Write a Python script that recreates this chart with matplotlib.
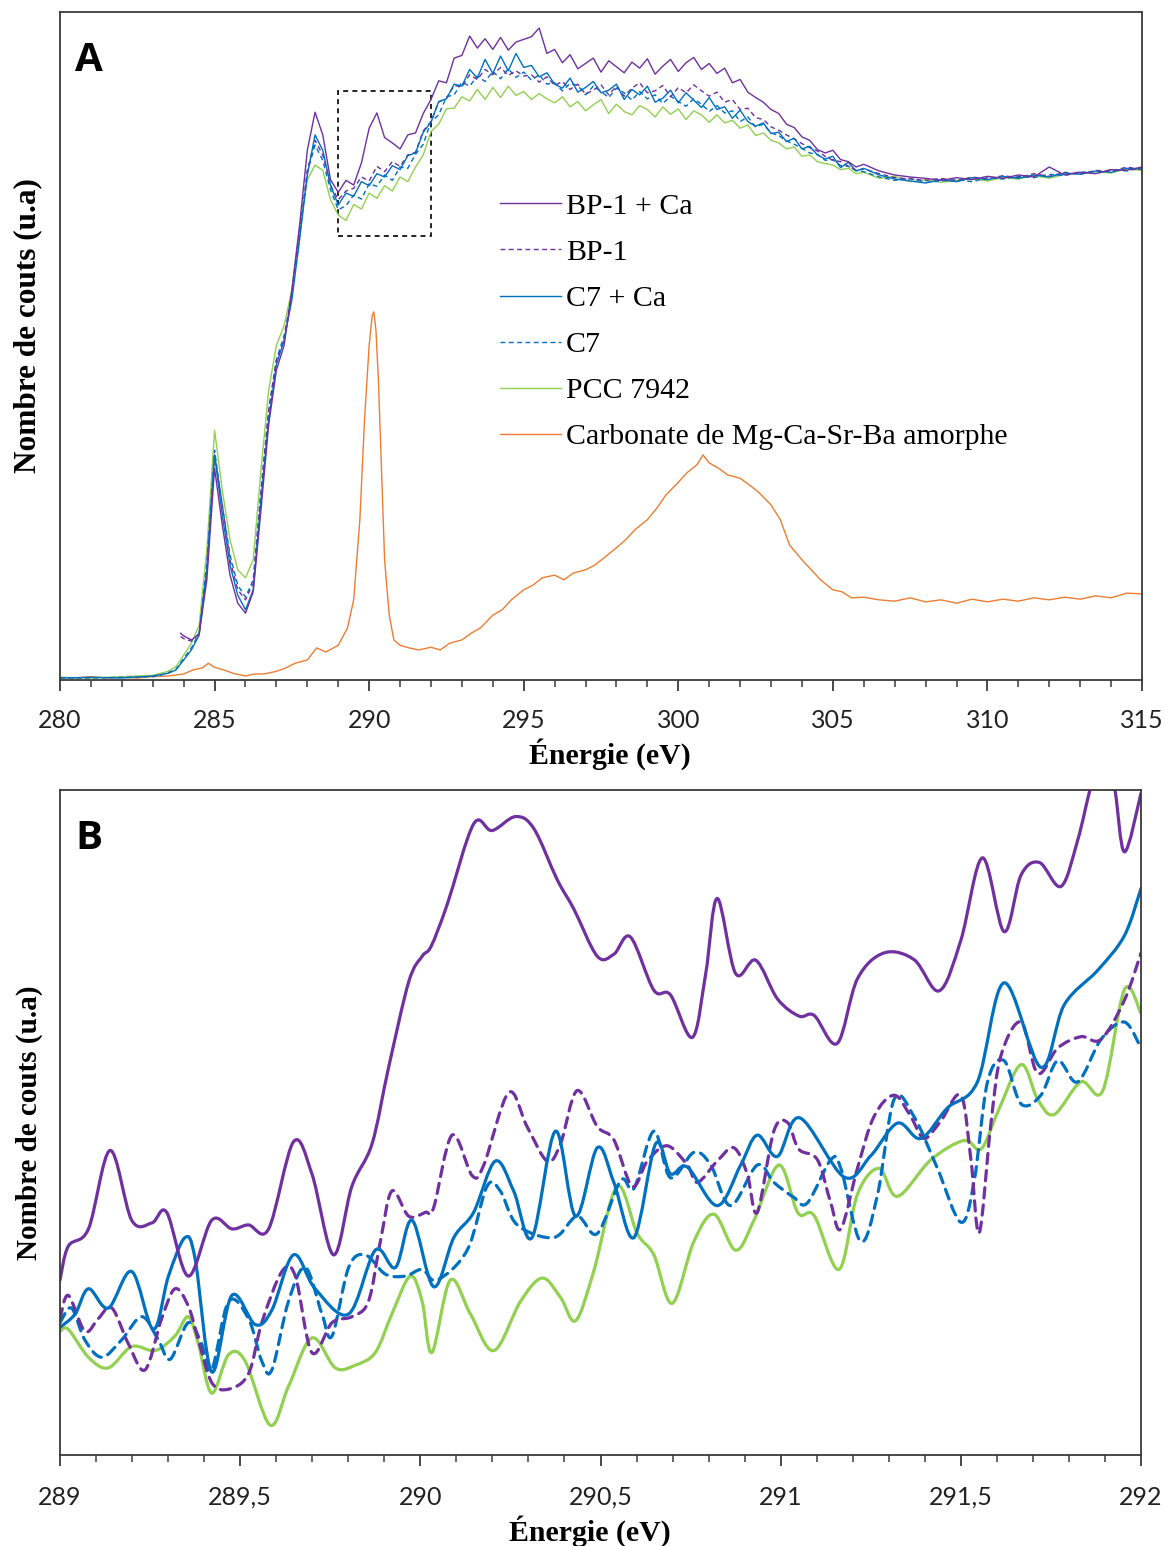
import numpy as np
import matplotlib
matplotlib.use("Agg")
import matplotlib.pyplot as plt
from matplotlib.path import Path
from matplotlib.patches import PathPatch, Rectangle
from matplotlib.lines import Line2D
from matplotlib.ticker import MultipleLocator, FuncFormatter

# ---------------- Panel A data (arbitrary units) ----------------
grid_head = [280, 281, 282, 283]
grid_fine = [283.25 + 0.25 * i for i in range(92)]          # 283.25 .. 306
grid_tail = [306.5 + 0.5 * i for i in range(18)]            # 306.5 .. 315
energy_A = grid_head + grid_fine + grid_tail
energy_A_bp1 = [283.9] + [e for e in energy_A if e >= 284.0]

c7_ca_A = ([0.3, 0.4, 0.3, 0.6,
            0.8, 1.0, 1.5, 3.0, 4.5, 6.7, 16.5, 33.7, 24.7, 17.2, 12.7, 10.5, 13.5, 26.9, 38.9, 47.2,
            50.9, 56.9, 65.9, 75.6, 81.6, 79.3, 74.1]
           + [71.1, 72.9, 72.4, 74.6, 74.0, 75.8, 75.3, 77.0, 76.4, 78.5, 78.9, 82.0, 83.5, 86.6, 87.0,
              89.2, 88.9, 91.4, 90.1, 92.9, 90.8, 93.4, 91.2, 93.8, 91.7, 92.0, 90.3, 90.9, 89.2]
           + [88.6, 90.1, 88.0, 88.7, 89.6, 87.9, 88.3, 89.2, 86.9, 88.4, 87.6, 88.9, 86.5, 87.1, 88.3,
              86.4, 87.9, 86.8, 85.7, 87.2, 85.4, 85.8, 84.1, 85.3, 83.6, 82.9, 83.4, 81.8, 82.0, 80.6,
              81.1, 79.5, 79.9, 78.6, 78.0, 78.4, 76.7, 77.5, 76.2, 76.6]
           + [75.6, 75.0, 74.7, 74.4, 74.9, 74.6, 75.2, 74.9, 75.4, 75.1, 75.6, 75.3, 75.9, 75.7, 76.2,
              76.0, 76.6, 76.5])

c7_A = ([0.3, 0.3, 0.4, 0.5,
         0.7, 1.1, 1.6, 3.2, 4.8, 7.0, 17.5, 34.4, 26.2, 18.7, 14.2, 12.4, 15.0, 28.4, 40.4, 47.9,
         51.6, 57.6, 66.6, 76.0, 80.1, 77.8, 73.4]
        + [70.4, 71.0, 72.6, 72.0, 74.3, 73.9, 75.6, 74.8, 76.8, 76.6, 78.7, 80.2, 83.6, 84.6, 87.3,
           87.6, 89.5, 88.9, 90.4, 89.6, 91.1, 90.0, 91.5, 90.2, 91.0, 89.8, 90.6, 89.2, 89.4]
        + [88.2, 89.3, 89.0, 87.6, 88.9, 88.1, 87.2, 88.6, 87.9, 86.8, 88.1, 87.0, 87.6, 86.3, 87.4,
           86.6, 85.9, 87.0, 86.2, 85.1, 86.0, 84.9, 85.2, 83.6, 84.3, 82.8, 83.2, 81.9, 81.5, 80.7,
           80.2, 79.6, 78.9, 78.7, 77.8, 77.9, 77.0, 76.9, 76.3, 76.1]
        + [75.3, 74.8, 75.1, 74.5, 74.7, 74.9, 74.6, 75.2, 75.0, 75.4, 75.2, 75.7, 75.5, 76.1, 75.8,
           76.4, 76.2, 76.7])

bp1_ca_A = ([7.0,
             6.6, 6.0, 6.8, 15.0, 31.7, 23.2, 15.7, 11.5, 10.0, 13.2, 25.4, 38.2, 46.4, 50.1, 58.4,
             68.1, 79.3, 85.0, 81.6, 74.9]
            + [73.0, 74.8, 74.1, 77.4, 82.6, 84.9, 81.2, 80.4, 79.5, 81.6, 81.9, 84.8, 86.9, 89.7, 89.4,
               93.1, 93.5, 96.4, 94.6, 96.0, 94.4, 96.2, 94.3, 95.5, 95.9, 96.3, 97.6, 93.8, 94.4]
            + [92.4, 93.6, 91.5, 92.3, 93.1, 91.0, 92.7, 91.8, 90.9, 92.5, 91.6, 93.0, 90.7, 91.9, 92.9,
               91.1, 92.4, 93.2, 91.4, 92.3, 90.8, 91.6, 89.4, 89.9, 88.0, 87.2, 86.5, 85.4, 84.8, 83.2,
               82.7, 81.3, 80.8, 79.4, 78.9, 79.3, 77.9, 77.6, 76.8, 77.2]
            + [76.2, 75.6, 75.3, 75.1, 74.8, 75.2, 74.9, 75.4, 75.1, 75.6, 75.3, 76.8, 75.6, 76.0, 75.8,
               76.4, 76.3, 76.8])

bp1_A = ([6.5,
          6.2, 5.8, 7.0, 16.0, 33.7, 26.2, 18.0, 13.5, 12.0, 14.5, 27.7, 40.4, 47.9, 50.9, 57.6,
          66.6, 76.3, 80.8, 78.6, 74.1]
         + [71.9, 73.2, 73.6, 75.3, 74.7, 76.9, 76.1, 77.6, 76.9, 78.6, 79.0, 82.2, 83.6, 86.5, 87.1,
            89.0, 88.8, 90.6, 89.9, 91.4, 90.6, 91.7, 90.5, 91.2, 90.4, 90.6, 89.5, 90.3, 89.0]
         + [89.6, 88.4, 89.2, 87.7, 88.3, 89.1, 87.6, 88.9, 87.4, 88.6, 89.4, 87.9, 88.2, 89.0, 87.3,
            88.7, 87.9, 89.1, 88.2, 87.4, 88.0, 86.5, 86.9, 85.4, 85.6, 84.2, 83.9, 82.8, 82.3, 81.6,
            81.0, 80.3, 79.7, 79.2, 78.4, 77.8, 77.6, 76.9, 76.3, 76.5]
         + [75.8, 75.2, 75.0, 74.8, 75.1, 74.7, 75.3, 75.0, 75.5, 75.2, 75.8, 75.4, 76.0, 75.7, 76.3,
            76.1, 76.8, 76.4])

pcc_A = ([0.4, 0.3, 0.5, 0.7,
          1.0, 1.3, 2.0, 3.7, 5.5, 8.2, 19.5, 37.4, 28.4, 21.0, 16.5, 15.3, 18.0, 31.4, 43.4, 50.1,
          53.1, 58.4, 67.4, 74.9, 77.1, 76.3, 71.9]
         + [69.6, 68.8, 71.2, 70.5, 72.9, 72.1, 74.0, 73.2, 75.3, 74.6, 76.8, 78.6, 82.1, 83.2, 85.5,
            85.6, 87.3, 86.7, 88.4, 86.9, 88.7, 87.2, 88.9, 87.5, 88.1, 86.9, 87.8, 87.0, 86.4]
         + [87.3, 85.8, 86.6, 85.2, 86.1, 86.9, 84.8, 86.2, 85.1, 84.6, 86.0, 85.4, 84.3, 85.8, 84.7,
            85.5, 83.9, 85.2, 84.6, 83.5, 84.6, 83.4, 83.8, 82.6, 83.1, 81.5, 81.9, 80.8, 80.4, 79.5,
            79.8, 78.4, 78.6, 77.6, 77.3, 77.1, 76.4, 76.6, 75.8, 76.0]
         + [75.1, 75.4, 74.6, 74.9, 74.5, 74.8, 75.0, 74.7, 75.2, 75.0, 75.5, 75.1, 75.7, 75.9, 76.1,
            75.9, 76.5, 76.3])

energy_carb = [280, 280.5, 281, 281.5, 282, 282.5, 283, 283.5, 284, 284.3, 284.6, 284.8, 285.0, 285.3,
               285.6, 286.0, 286.3, 286.6, 287.0, 287.3, 287.6, 288.0, 288.3, 288.6, 289.0, 289.3,
               289.5, 289.7, 289.85, 290.0, 290.1, 290.15, 290.22, 290.3, 290.4, 290.5, 290.65, 290.8,
               291.0, 291.3, 291.6, 292.0, 292.3, 292.6, 293.0, 293.3, 293.6, 294.0, 294.3, 294.6,
               295.0, 295.3, 295.6, 296.0, 296.3, 296.6, 297.0, 297.3, 297.6, 298.0, 298.3, 298.6,
               299.0, 299.3, 299.6, 300.0, 300.3, 300.6, 300.8, 301.0, 301.3, 301.6, 302.0, 302.3,
               302.6, 303.0, 303.3, 303.6, 304.0, 304.3, 304.6, 305.0, 305.3, 305.6, 306.0, 306.5,
               307.0, 307.5, 308.0, 308.5, 309.0, 309.5, 310.0, 310.5, 311.0, 311.5, 312.0, 312.5,
               313.0, 313.5, 314.0, 314.5, 315.0]
carbonate_A = [0.4, 0.3, 0.5, 0.3, 0.4, 0.3, 0.5, 0.6, 0.9, 1.5, 1.8, 2.5, 1.9, 1.5,
               1.0, 0.6, 0.9, 0.9, 1.3, 1.8, 2.5, 3.0, 4.8, 4.2, 5.2, 7.8,
               12.0, 24.0, 38.9, 50.1, 54.6, 55.1, 52.4, 44.9, 31.4, 18.0, 9.7, 6.0,
               5.2, 4.8, 4.5, 4.9, 4.5, 5.5, 6.0, 7.0, 7.8, 9.7, 10.5, 12.0,
               13.5, 14.2, 15.3, 15.7, 15.0, 16.0, 16.5, 17.2, 18.3, 19.8, 21.0, 22.5,
               24.0, 25.7, 27.7, 29.6, 31.1, 32.2, 33.7, 32.5, 31.7, 30.7, 30.2, 29.2,
               28.1, 26.2, 24.0, 20.2, 18.0, 16.5, 15.0, 13.5, 13.2, 12.3, 12.4, 12.0,
               11.8, 12.3, 11.7, 12.0, 11.5, 12.1, 11.7, 12.1, 11.8, 12.3, 12.0, 12.4,
               12.1, 12.6, 12.3, 13.0, 12.9]

# ---------------- Panel B data (zoom 289-292 eV) ----------------
bp1_ca_B_E = [289.000, 289.023, 289.079, 289.139, 289.199, 289.255, 289.296, 289.356, 289.421, 289.477,
              289.523, 289.579, 289.648, 289.699, 289.759, 289.810, 289.866, 289.912, 289.968, 290.005,
              290.030, 290.074, 290.148, 290.199, 290.264, 290.315, 290.380, 290.426, 290.491, 290.537,
              290.583, 290.648, 290.694, 290.755, 290.792, 290.824, 290.875, 290.931, 290.991, 291.051,
              291.093, 291.157, 291.213, 291.287, 291.370, 291.440, 291.500, 291.560, 291.620, 291.667,
              291.718, 291.778, 291.824, 291.861, 291.894, 291.926, 291.954, 292.000]
bp1_ca_B = [26.3, 31.4, 34.0, 45.8, 35.3, 34.9, 36.5, 26.9, 35.3, 34.0,
            34.6, 34.0, 47.1, 42.3, 30.1, 40.4, 46.8, 58.3, 71.2, 75.0,
            76.5, 82.7, 94.9, 93.9, 96.0, 94.2, 86.5, 82.1, 75.0, 75.3,
            77.9, 69.9, 69.2, 62.8, 72.4, 83.7, 72.4, 74.4, 68.6, 66.0,
            66.1, 61.9, 71.6, 75.5, 74.5, 69.8, 77.4, 89.8, 78.7, 87.2,
            89.1, 85.5, 92.4, 100.5, 105.0, 100.5, 90.7, 99.5]

bp1_B_E = [289.000, 289.023, 289.069, 289.106, 289.144, 289.190, 289.236, 289.282, 289.319, 289.356,
           289.384, 289.421, 289.468, 289.523, 289.560, 289.616, 289.653, 289.699, 289.755, 289.810,
           289.856, 289.889, 289.921, 289.968, 290.014, 290.037, 290.088, 290.144, 290.176, 290.245,
           290.296, 290.352, 290.389, 290.435, 290.491, 290.537, 290.588, 290.630, 290.685, 290.741,
           290.769, 290.824, 290.870, 290.907, 290.935, 290.981, 291.019, 291.050, 291.102, 291.139,
           291.167, 291.213, 291.259, 291.315, 291.361, 291.398, 291.444, 291.500, 291.528, 291.551,
           291.583, 291.611, 291.667, 291.713, 291.769, 291.833, 291.889, 291.954, 292.000]
bp1_B = [20.5, 24.0, 18.6, 20.5, 22.1, 16.7, 12.8, 20.5, 25.0, 22.4,
         17.3, 10.9, 9.9, 12.2, 19.9, 27.6, 26.9, 15.4, 19.9, 20.8,
         23.1, 32.1, 39.7, 35.9, 36.5, 37.2, 48.1, 42.0, 43.6, 54.5,
         49.4, 44.2, 46.8, 54.8, 49.4, 47.4, 40.4, 44.2, 46.5, 43.6,
         41.0, 44.2, 46.2, 42.3, 36.5, 48.7, 50.0, 46.0, 44.4, 37.9,
         34.0, 43.1, 50.9, 54.1, 50.9, 47.6, 50.2, 54.1, 44.4, 33.4,
         49.6, 60.0, 65.1, 57.4, 61.2, 62.9, 62.5, 68.4, 75.5]

c7_ca_B_E = [289.000, 289.042, 289.079, 289.134, 289.199, 289.259, 289.301, 289.347, 289.375, 289.421,
             289.477, 289.542, 289.588, 289.648, 289.708, 289.801, 289.875, 289.931, 289.977, 290.037,
             290.093, 290.148, 290.208, 290.259, 290.310, 290.375, 290.431, 290.491, 290.537, 290.593,
             290.653, 290.694, 290.741, 290.824, 290.889, 290.935, 290.991, 291.053, 291.176, 291.250,
             291.324, 291.389, 291.463, 291.546, 291.620, 291.722, 291.787, 291.880, 291.954, 292.000]
c7_ca_B = [19.2, 21.2, 25.0, 22.1, 27.6, 18.9, 26.9, 32.7, 29.5, 12.5,
           24.0, 19.6, 21.8, 30.1, 25.0, 21.2, 30.8, 28.2, 35.3, 25.3,
           32.7, 36.5, 44.2, 39.7, 32.7, 48.7, 35.9, 46.2, 41.0, 32.7,
           46.8, 42.3, 43.3, 37.5, 43.6, 48.1, 44.9, 50.7, 41.8, 45.0,
           49.9, 47.6, 52.2, 56.1, 71.0, 58.3, 67.7, 72.9, 78.1, 85.2]

c7_B_E = [289.000, 289.032, 289.069, 289.116, 289.171, 289.227, 289.273, 289.306, 289.356, 289.393,
          289.421, 289.468, 289.523, 289.560, 289.588, 289.634, 289.681, 289.727, 289.755, 289.801,
          289.847, 289.903, 289.958, 290.005, 290.046, 290.130, 290.185, 290.222, 290.269, 290.370,
          290.435, 290.491, 290.556, 290.593, 290.648, 290.694, 290.759, 290.806, 290.861, 290.935,
          290.981, 291.035, 291.074, 291.139, 291.167, 291.222, 291.269, 291.315, 291.370, 291.435,
          291.500, 291.537, 291.574, 291.620, 291.667, 291.722, 291.769, 291.824, 291.889, 291.954,
          292.000]
c7_B = [19.9, 22.1, 17.3, 14.7, 17.3, 20.8, 17.3, 14.4, 19.9, 16.7,
        12.8, 23.1, 20.5, 14.1, 12.8, 23.1, 28.2, 21.2, 17.9, 28.2,
        30.1, 27.2, 26.9, 27.9, 26.3, 30.8, 40.4, 39.7, 34.6, 32.7,
        35.9, 33.3, 41.3, 40.1, 48.7, 41.7, 45.5, 43.6, 37.5, 43.6,
        41.0, 38.8, 37.9, 44.4, 43.1, 32.1, 39.2, 53.5, 50.9, 43.1,
        35.0, 41.2, 56.1, 59.3, 52.8, 54.1, 59.3, 56.1, 62.5, 65.1,
        61.2]

pcc_B_E = [289.000, 289.023, 289.079, 289.134, 289.199, 289.264, 289.319, 289.356, 289.384, 289.421,
           289.468, 289.514, 289.583, 289.634, 289.699, 289.764, 289.819, 289.875, 289.921, 289.972,
           290.005, 290.032, 290.083, 290.139, 290.204, 290.278, 290.338, 290.389, 290.431, 290.481,
           290.546, 290.602, 290.648, 290.699, 290.759, 290.815, 290.875, 290.926, 290.995, 291.048,
           291.093, 291.162, 291.213, 291.273, 291.324, 291.417, 291.509, 291.556, 291.602, 291.667,
           291.713, 291.759, 291.833, 291.894, 291.954, 292.000]
pcc_B = [18.6, 18.9, 14.7, 13.1, 16.3, 15.7, 17.9, 20.8, 16.7, 9.3,
         15.1, 14.1, 4.5, 10.3, 17.6, 13.1, 13.5, 15.4, 21.2, 26.9,
         23.1, 15.4, 26.3, 21.2, 15.7, 23.1, 26.6, 23.7, 20.2, 27.6,
         40.4, 33.3, 30.1, 22.8, 32.1, 36.2, 30.8, 35.3, 43.6, 36.4,
         36.0, 27.9, 39.2, 43.1, 38.9, 44.4, 47.3, 46.0, 51.5, 58.7,
         53.5, 51.2, 56.1, 54.8, 70.0, 66.4]

labels = ["BP-1 + Ca", "BP-1", "C7 + Ca", "C7", "PCC 7942", "Carbonate de Mg-Ca-Sr-Ba amorphe"]
xticks_A = [280, 285, 290, 295, 300, 305, 310, 315]
xticks_B = [289, 289.5, 290, 290.5, 291, 291.5, 292]

# ---------------- styling ----------------
PURPLE = "#7030A0"
BLUE = "#0070C0"
GREEN = "#92D050"
ORANGE = "#ED7D31"
SPINE = "#3a3a3a"
serif = ["Liberation Serif", "DejaVu Serif"]
tickfont = "Lato"

assert len(c7_ca_A) == len(energy_A) == len(c7_A) == len(pcc_A)
assert len(bp1_ca_A) == len(energy_A_bp1) == len(bp1_A)
assert len(energy_carb) == len(carbonate_A)
for e, v in [(bp1_ca_B_E, bp1_ca_B), (bp1_B_E, bp1_B), (c7_ca_B_E, c7_ca_B), (c7_B_E, c7_B), (pcc_B_E, pcc_B)]:
    assert len(e) == len(v)

fig = plt.figure(figsize=(11.66, 15.46), dpi=100)
axA = fig.add_axes([60 / 1166, 1 - 680 / 1546, 1082 / 1166, 668 / 1546])
axB = fig.add_axes([60 / 1166, 1 - 1455 / 1546, 1081 / 1166, 665 / 1546])

dash_A = (0, (3.5, 2.5))
lw_A = 1.0
axA.plot(energy_carb, carbonate_A, color=ORANGE, lw=lw_A)
axA.plot(energy_A, pcc_A, color=GREEN, lw=lw_A)
axA.plot(energy_A, c7_A, color=BLUE, lw=lw_A, ls=dash_A)
axA.plot(energy_A_bp1, bp1_A, color=PURPLE, lw=lw_A, ls=dash_A)
axA.plot(energy_A, c7_ca_A, color=BLUE, lw=lw_A)
axA.plot(energy_A_bp1, bp1_ca_A, color=PURPLE, lw=lw_A)

axA.add_patch(Rectangle((289, 66.5), 3, 21.7, fill=False, ls=(0, (3, 2.5)), lw=1.2, ec="black"))

axA.set_xlim(280, 315)
axA.set_ylim(0, 100)
axA.xaxis.set_major_locator(MultipleLocator(5))
axA.xaxis.set_minor_locator(MultipleLocator(1))
axA.set_xticks(xticks_A)

handles = [Line2D([], [], color=PURPLE, lw=1.0),
           Line2D([], [], color=PURPLE, lw=1.0, ls=(0, (3.5, 2.5))),
           Line2D([], [], color=BLUE, lw=1.0),
           Line2D([], [], color=BLUE, lw=1.0, ls=(0, (3.5, 2.5))),
           Line2D([], [], color=GREEN, lw=1.0),
           Line2D([], [], color=ORANGE, lw=1.0)]
leg = axA.legend(handles, labels, loc="upper left", bbox_to_anchor=(0.4067, 0.729),
                 frameon=False, prop={"family": serif, "size": 21.5},
                 handlelength=2.05, handletextpad=0.15, labelspacing=0.64, borderpad=0, borderaxespad=0)


def smooth_path(x, y):
    pts = np.column_stack([x, y]).astype(float)
    n = len(pts)
    verts = [pts[0]]
    codes = [Path.MOVETO]
    for i in range(n - 1):
        p0 = pts[i - 1] if i > 0 else pts[i]
        p1 = pts[i]
        p2 = pts[i + 1]
        p3 = pts[i + 2] if i + 2 < n else pts[i + 1]
        c1 = p1 + (p2 - p0) / 6.0
        c2 = p2 - (p3 - p1) / 6.0
        verts += [c1, c2, p2]
        codes += [Path.CURVE4] * 3
    return Path(verts, codes)


lw_B = 2.3
dash_B = (0, (3.2, 2.2))
for e, v, col, ls in [(pcc_B_E, pcc_B, GREEN, "solid"),
                      (c7_B_E, c7_B, BLUE, dash_B),
                      (bp1_B_E, bp1_B, PURPLE, dash_B),
                      (c7_ca_B_E, c7_ca_B, BLUE, "solid"),
                      (bp1_ca_B_E, bp1_ca_B, PURPLE, "solid")]:
    patch = PathPatch(smooth_path(e, v), fill=False, ec=col, lw=lw_B, ls=ls, capstyle="round",
                      joinstyle="round")
    axB.add_patch(patch)

axB.set_xlim(289, 292)
axB.set_ylim(0, 100)
axB.xaxis.set_major_locator(MultipleLocator(0.5))
axB.xaxis.set_minor_locator(MultipleLocator(0.1))
axB.set_xticks(xticks_B)
axB.xaxis.set_major_formatter(FuncFormatter(lambda x, p: ("%g" % x).replace(".", ",")))

for ax, letter, xl_x, xl_y, yl_y, yl_size, tpad in [(axA, "A", 0.508, -0.0865, 0.53, 22.5, 13),
                                                     (axB, "B", 0.490, -0.091, 0.50, 21, 14)]:
    ax.set_yticks([])
    for sp in ax.spines.values():
        sp.set_color(SPINE)
        sp.set_linewidth(1.3)
    ax.tick_params(axis="x", which="major", direction="out", length=8, width=1.3, color=SPINE,
                   labelsize=18, pad=tpad, labelcolor="#222222")
    ax.tick_params(axis="x", which="minor", direction="out", length=5, width=1.1, color=SPINE)
    for lab in ax.get_xticklabels():
        lab.set_family(tickfont)
    ax.set_xlabel("Énergie (eV)", family=serif, fontweight="bold", fontsize=21.5, labelpad=3)
    ax.xaxis.set_label_coords(xl_x, xl_y)
    ax.set_ylabel("Nombre de couts (u.a)", family=serif, fontweight="bold", fontsize=yl_size)
    ax.yaxis.set_label_coords(-0.016, yl_y)
    ax.text(0.014, 0.956, letter, transform=ax.transAxes, fontsize=29, fontweight="bold",
            family="Open Sans", va="top", ha="left")

fig.savefig("out.png", dpi=100)
